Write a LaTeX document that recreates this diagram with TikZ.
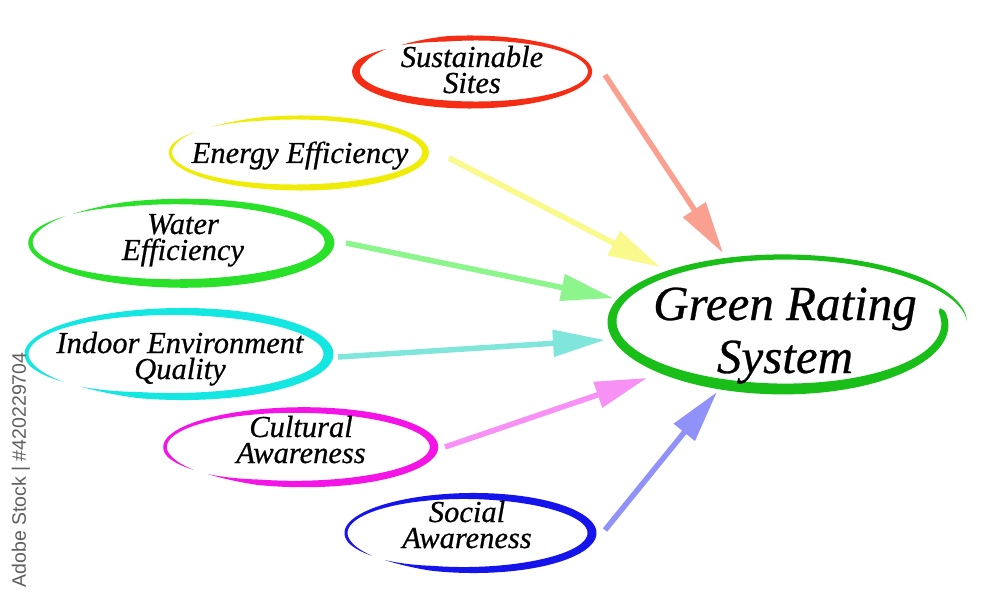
\documentclass[tikz,border=0pt]{standalone}
\usepackage{fontspec}
\setmainfont{Liberation Serif}[ItalicFeatures={FakeBold=0.6}]
\newfontfamily\wmfont{Liberation Sans}
\usetikzlibrary{arrows.meta,shapes.geometric}
\definecolor{cRed}{RGB}{245,45,20}
\definecolor{cYel}{RGB}{240,236,10}
\definecolor{cGrn}{RGB}{40,225,40}
\definecolor{cCyn}{RGB}{20,230,225}
\definecolor{cMag}{RGB}{245,20,230}
\definecolor{cBlu}{RGB}{20,20,235}
\definecolor{cHub}{RGB}{25,190,25}
\definecolor{aRed}{RGB}{250,160,145}
\definecolor{aYel}{RGB}{250,250,140}
\definecolor{aGrn}{RGB}{140,245,140}
\definecolor{aCyn}{RGB}{128,230,220}
\definecolor{aMag}{RGB}{248,145,245}
\definecolor{aBlu}{RGB}{145,145,250}
\definecolor{wmgray}{RGB}{95,95,95}
\pgfkeys{/br/.is family,/br,
  cx/.store in=\brcx, cy/.store in=\brcy, rx/.store in=\brrx, ry/.store in=\brry,
  a/.store in=\bra, b/.store in=\brb, w/.store in=\brw, amp/.store in=\bramp,
  ph/.store in=\brph, tpa/.store in=\brtpa, tpb/.store in=\brtpb, gx/.store in=\brgx,
  col/.store in=\brcol,
  defaults/.style={/br/amp=0,/br/ph=0,/br/tpa=25,/br/tpb=25,/br/gx=0}}
\tikzset{declare function={
  bW(\u)=max(0.5,\brw+\bramp*cos(\u-\brph))*min(1,(\u-\bra)/\brtpa,(\brb-\u)/\brtpb);
  bR(\u)=\brrx+\brgx*(\u-\bra)/(\brb-\bra);}}
\newcommand\brush[1]{\begingroup\pgfkeys{/br/.cd,defaults,#1}%
  \fill[\brcol] plot[domain=\bra:\brb,samples=160]
    ({\brcx+(bR(\x)+0.5*bW(\x))*cos(\x)},{\brcy+(\brry+0.5*bW(\x))*sin(\x)})
    -- plot[domain=\brb:\bra,samples=160]
    ({\brcx+(bR(\x)-0.5*bW(\x))*cos(\x)},{\brcy+(\brry-0.5*bW(\x))*sin(\x)}) -- cycle;
  \endgroup}
\tikzset{
  bub/.style={ellipse,draw=none,inner sep=0pt},
  lbl/.style={anchor=base,inner sep=0pt,align=center,font=\itshape\fontsize{30.5}{26}\selectfont},
  biglbl/.style={anchor=base,inner sep=0pt,align=center,font=\itshape\fontsize{49}{53}\selectfont},
  arr/.style={line width=5.5pt,-{Triangle[length=52pt,width=26pt]}}
}
\begin{document}
\begin{tikzpicture}[x=1pt,y=-1pt]
\useasboundingbox (0,0) rectangle (1000,604);
\fill[white] (0,0) rectangle (1000,604);

% named bubbles
\node[bub,minimum width=240pt,minimum height=73pt] (ss) at (473,71.5) {};
\node[bub,minimum width=260pt,minimum height=75pt] (ee) at (298,152.5) {};
\node[bub,minimum width=306pt,minimum height=89pt] (we) at (180,242.5) {};
\node[bub,minimum width=309pt,minimum height=92pt] (ie) at (177.5,354) {};
\node[bub,minimum width=275pt,minimum height=80pt] (ca) at (299.5,447) {};
\node[bub,minimum width=252pt,minimum height=80pt] (sa) at (469,533) {};
\node[bub,minimum width=350pt,minimum height=140pt] (grs) at (784,323) {};

% brush rings
\brush{cx=473,cy=71.5,rx=117,ry=33.5,a=-128,b=222,w=6,amp=2,ph=150,col=cRed}
\brush{cx=298,cy=152.5,rx=127.5,ry=35,a=-133,b=216,w=5,amp=2,ph=30,col=cYel}
\brush{cx=180,cy=242.5,rx=149.5,ry=41,a=-136,b=220,w=7,amp=3,ph=30,col=cGrn}
\brush{cx=177.5,cy=354,rx=151,ry=42.5,a=139,b=490,w=7,amp=3,ph=0,col=cCyn}
\brush{cx=299.5,cy=447,rx=134.5,ry=37,a=142,b=493,w=6,amp=2.5,ph=10,col=cMag}
\brush{cx=469,cy=533,rx=123,ry=37,a=142,b=493,w=6,amp=3,ph=0,col=cBlu}
\brush{cx=784,cy=323,rx=160,ry=66,gx=23,a=-13,b=358,w=8,amp=3,ph=110,tpa=3,tpb=40,col=cHub}

% labels (anchored at the last baseline)
\node[lbl] (ss-t) at (472,93) {Sustainable\\Sites};
\node[lbl] (ee-t) at (300,163) {Energy Efficiency};
\node[lbl] (we-t) at (183,260) {Water\\Efficiency};
\node[lbl] (ie-t) at (180,379) {Indoor Environment\\Quality};
\node[lbl] (ca-t) at (301,463) {Cultural\\Awareness};
\node[lbl] (sa-t) at (467,548) {Social\\Awareness};
\node[biglbl] (gr-t) at (785,373) {Green Rating\\System};

% arrows
\draw[arr,aRed] ([shift={(132,3.5)}]ss.center) -- ([shift={(-61,-70)}]grs.center);
\draw[arr,aYel] ([shift={(151,5.5)}]ee.center) -- ([shift={(-124,-56)}]grs.center);
\draw[arr,aGrn] ([shift={(166,0.5)}]we.center) -- ([shift={(-171,-25)}]grs.center);
\draw[arr,aCyn] ([shift={(160.5,3)}]ie.center) -- ([shift={(-179,17)}]grs.center);
\draw[arr,aMag] ([shift={(145.5,0)}]ca.center) -- ([shift={(-137,55)}]grs.center);
\draw[arr,aBlu] ([shift={(136,-3)}]sa.center) -- ([shift={(-67,69)}]grs.center);

% side text
\node[rotate=90,inner sep=0pt,text=wmgray,font=\wmfont\fontsize{19.5}{19.5}\selectfont] (wm) at (21,470) {Adobe Stock | \#420229704};
\end{tikzpicture}
\end{document}
